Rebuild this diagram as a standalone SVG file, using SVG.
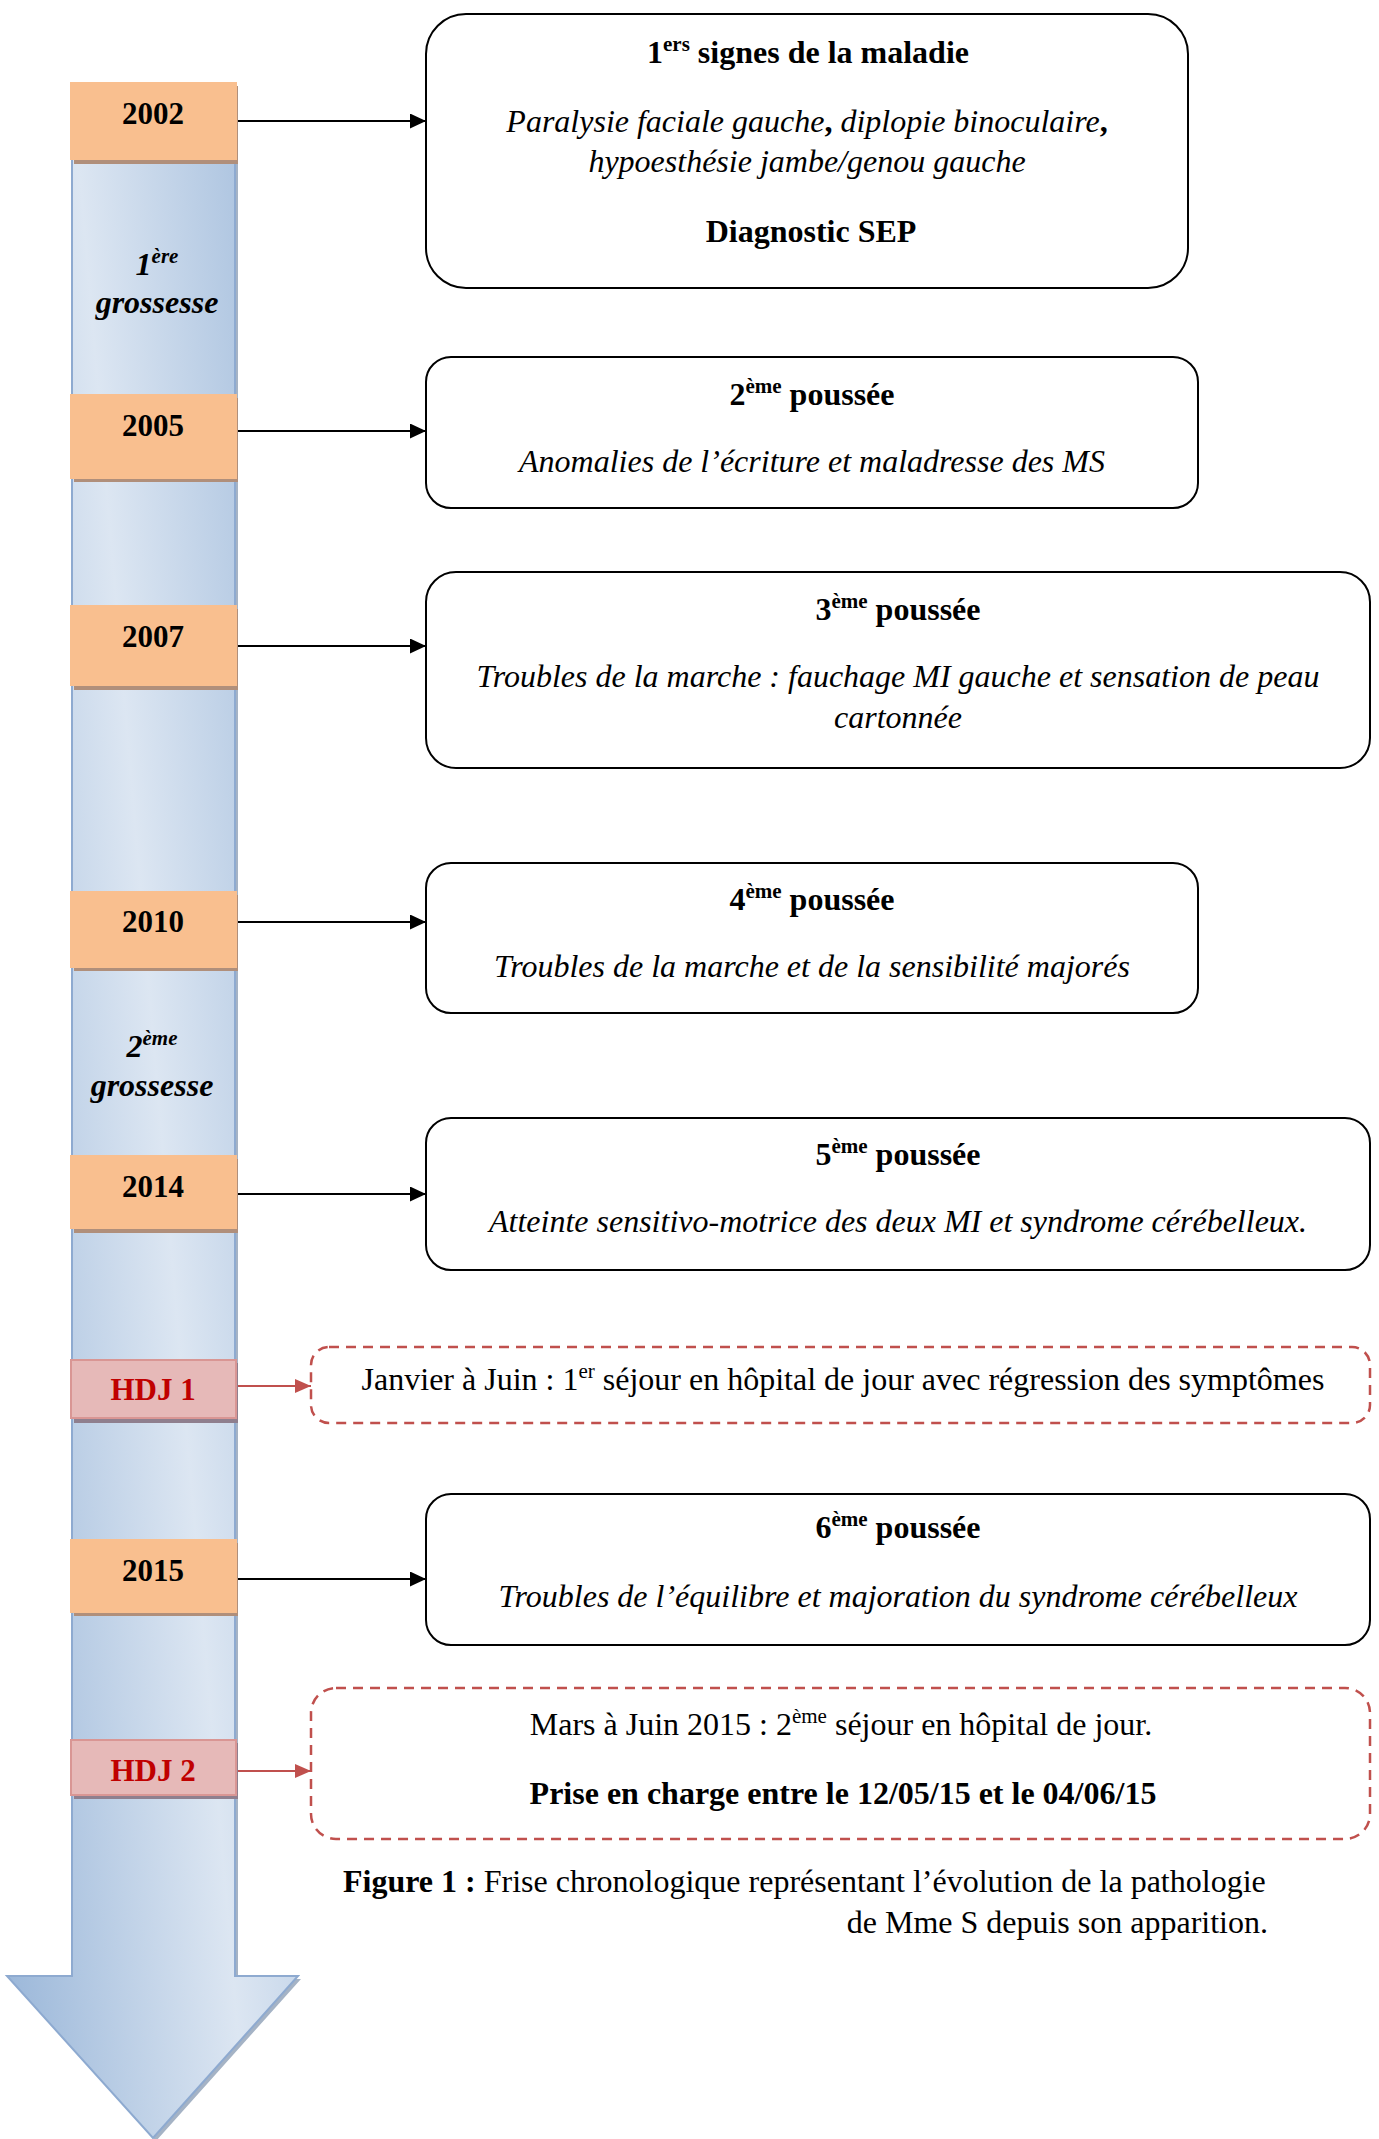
<svg xmlns="http://www.w3.org/2000/svg" width="1379" height="2139" viewBox="0 0 1379 2139">
<style>
text{font-family:"Liberation Serif","Times New Roman",serif;font-size:32px;fill:#000;}
.b{font-weight:bold;}
.i{font-style:italic;}
.c{text-anchor:middle;}
.yt{font-size:31px;}
.sup{font-size:21px;}
.box{fill:#fff;stroke:#000;stroke-width:2;}
.dash{fill:#fff;stroke:#c0504d;stroke-width:2.5;stroke-dasharray:10 7;}
.yr{fill:#f9bf8f;}
.yrsh{fill:#b08f7b;}
.hdj{fill:#e6b9b8;stroke:#d99694;stroke-width:2;}
.hdjsh{fill:#8f7f8e;}
.hdjt{fill:#c00000;}
.conn{stroke:#000;stroke-width:2;fill:none;}
.connr{stroke:#c0504d;stroke-width:2;fill:none;}
</style>
<defs>
<linearGradient id="shaft" gradientUnits="userSpaceOnUse" x1="-185" y1="0" x2="315" y2="0" gradientTransform="skewX(4.86)">
<stop offset="0" stop-color="#95b3d7"/>
<stop offset="0.5" stop-color="#dce6f2"/>
<stop offset="1" stop-color="#95b3d7"/>
</linearGradient>
<marker id="ah" markerUnits="userSpaceOnUse" markerWidth="16" markerHeight="15" refX="16" refY="7.5" orient="auto">
<path d="M0,0 L16,7.5 L0,15 Z" fill="#000"/>
</marker>
<marker id="ahr" markerUnits="userSpaceOnUse" markerWidth="16" markerHeight="14" refX="16" refY="7" orient="auto">
<path d="M0,0 L16,7 L0,14 Z" fill="#c0504d"/>
</marker>
</defs>
<rect width="1379" height="2139" fill="#fff"/>

<g id="timeline-arrow">
<polygon points="75,88 238,88 238,1979 301,1979 156,2141 10,1979 75,1979" fill="#7f93ad" opacity="0.7"/>
<polygon points="72,85 235,85 235,1976 298,1976 153,2138 7,1976 72,1976" fill="url(#shaft)" stroke="#8eaad0" stroke-width="2"/>
</g>

<g id="connectors">
<line class="conn" x1="237" y1="121" x2="426" y2="121" marker-end="url(#ah)"/>
<line class="conn" x1="235" y1="431" x2="426" y2="431" marker-end="url(#ah)"/>
<line class="conn" x1="235" y1="646" x2="426" y2="646" marker-end="url(#ah)"/>
<line class="conn" x1="235" y1="922" x2="426" y2="922" marker-end="url(#ah)"/>
<line class="conn" x1="235" y1="1194" x2="426" y2="1194" marker-end="url(#ah)"/>
<line class="connr" x1="235" y1="1386" x2="311" y2="1386" marker-end="url(#ahr)"/>
<line class="conn" x1="235" y1="1579" x2="426" y2="1579" marker-end="url(#ah)"/>
<line class="connr" x1="235" y1="1771" x2="311" y2="1771" marker-end="url(#ahr)"/>
</g>

<g id="y2002">
<rect class="yrsh" x="74" y="86" width="164" height="78"/>
<rect class="yr" x="70" y="82" width="167" height="78"/>
<text class="b c yt" x="153" y="124">2002</text>
</g>
<g id="grossesse1">
<text class="b i c" x="157" y="275">1<tspan class="sup" dy="-12">ère</tspan></text>
<text class="b i c" x="157" y="313">grossesse</text>
</g>
<g id="y2005">
<rect class="yrsh" x="74" y="398" width="164" height="84"/>
<rect class="yr" x="70" y="394" width="167" height="85"/>
<text class="b c yt" x="153" y="436">2005</text>
</g>
<g id="y2007">
<rect class="yrsh" x="74" y="609" width="164" height="81"/>
<rect class="yr" x="70" y="605" width="167" height="81"/>
<text class="b c yt" x="153" y="647">2007</text>
</g>
<g id="y2010">
<rect class="yrsh" x="74" y="895" width="164" height="76"/>
<rect class="yr" x="70" y="891" width="167" height="77"/>
<text class="b c yt" x="153" y="932">2010</text>
</g>
<g id="grossesse2">
<text class="b i c" x="152" y="1057">2<tspan class="sup" dy="-12">ème</tspan></text>
<text class="b i c" x="152" y="1096">grossesse</text>
</g>
<g id="y2014">
<rect class="yrsh" x="74" y="1159" width="164" height="74"/>
<rect class="yr" x="70" y="1155" width="167" height="74"/>
<text class="b c yt" x="153" y="1197">2014</text>
</g>
<g id="hdj1">
<rect class="hdjsh" x="74" y="1363" width="164" height="60"/>
<rect class="hdj" x="71" y="1360" width="165" height="58"/>
<text class="b c hdjt yt" x="153" y="1400">HDJ 1</text>
</g>
<g id="y2015">
<rect class="yrsh" x="74" y="1543" width="164" height="73"/>
<rect class="yr" x="70" y="1539" width="167" height="74"/>
<text class="b c yt" x="153" y="1581">2015</text>
</g>
<g id="hdj2">
<rect class="hdjsh" x="74" y="1743" width="164" height="56"/>
<rect class="hdj" x="71" y="1740" width="165" height="55"/>
<text class="b c hdjt yt" x="153" y="1781">HDJ 2</text>
</g>

<g id="box1">
<rect class="box" x="426" y="14" width="762" height="274" rx="40"/>
<text class="b c" x="808" y="63">1<tspan class="sup" dy="-12">ers</tspan><tspan dy="12"> signes de la maladie</tspan></text>
<text class="i c" x="807" y="132">Paralysie faciale gauche<tspan class="b" font-style="normal">,</tspan> diplopie binoculaire<tspan class="b" font-style="normal">,</tspan></text>
<text class="i c" x="807" y="172">hypoesthésie jambe/genou gauche</text>
<text class="b c" x="811" y="242">Diagnostic SEP</text>
</g>
<g id="box2">
<rect class="box" x="426" y="357" width="772" height="151" rx="25"/>
<text class="b c" x="812" y="405">2<tspan class="sup" dy="-12">ème</tspan><tspan dy="12"> poussée</tspan></text>
<text class="i c" x="812" y="472">Anomalies de l’écriture et maladresse des MS</text>
</g>
<g id="box3">
<rect class="box" x="426" y="572" width="944" height="196" rx="30"/>
<text class="b c" x="898" y="620">3<tspan class="sup" dy="-12">ème</tspan><tspan dy="12"> poussée</tspan></text>
<text class="i c" x="898" y="687">Troubles de la marche : fauchage MI gauche et sensation de peau</text>
<text class="i c" x="898" y="728">cartonnée</text>
</g>
<g id="box4">
<rect class="box" x="426" y="863" width="772" height="150" rx="25"/>
<text class="b c" x="812" y="910">4<tspan class="sup" dy="-12">ème</tspan><tspan dy="12"> poussée</tspan></text>
<text class="i c" x="812" y="977">Troubles de la marche et de la sensibilité majorés</text>
</g>
<g id="box5">
<rect class="box" x="426" y="1118" width="944" height="152" rx="25"/>
<text class="b c" x="898" y="1165">5<tspan class="sup" dy="-12">ème</tspan><tspan dy="12"> poussée</tspan></text>
<text class="i c" x="898" y="1232">Atteinte sensitivo-motrice des deux MI et syndrome cérébelleux.</text>
</g>
<g id="hdj1-box">
<rect class="dash" x="311" y="1347" width="1059" height="76" rx="18"/>
<text class="c" x="843" y="1390">Janvier à Juin : 1<tspan class="sup" dy="-12">er</tspan><tspan dy="12"> séjour en hôpital de jour avec régression des symptômes</tspan></text>
</g>
<g id="box6">
<rect class="box" x="426" y="1494" width="944" height="151" rx="25"/>
<text class="b c" x="898" y="1538">6<tspan class="sup" dy="-12">ème</tspan><tspan dy="12"> poussée</tspan></text>
<text class="i c" x="898" y="1607">Troubles de l’équilibre et majoration du syndrome cérébelleux</text>
</g>
<g id="hdj2-box">
<rect class="dash" x="311" y="1688" width="1059" height="151" rx="25"/>
<text class="c" x="841" y="1735">Mars à Juin 2015 : 2<tspan class="sup" dy="-12">ème</tspan><tspan dy="12"> séjour en hôpital de jour.</tspan></text>
<text class="b c" x="843" y="1804">Prise en charge entre le 12/05/15 et le 04/06/15</text>
</g>

<g id="caption">
<text x="343" y="1892"><tspan class="b">Figure 1 :</tspan> Frise chronologique représentant l’évolution de la pathologie</text>
<text x="1268" y="1933" text-anchor="end">de Mme S depuis son apparition.</text>
</g>
</svg>
